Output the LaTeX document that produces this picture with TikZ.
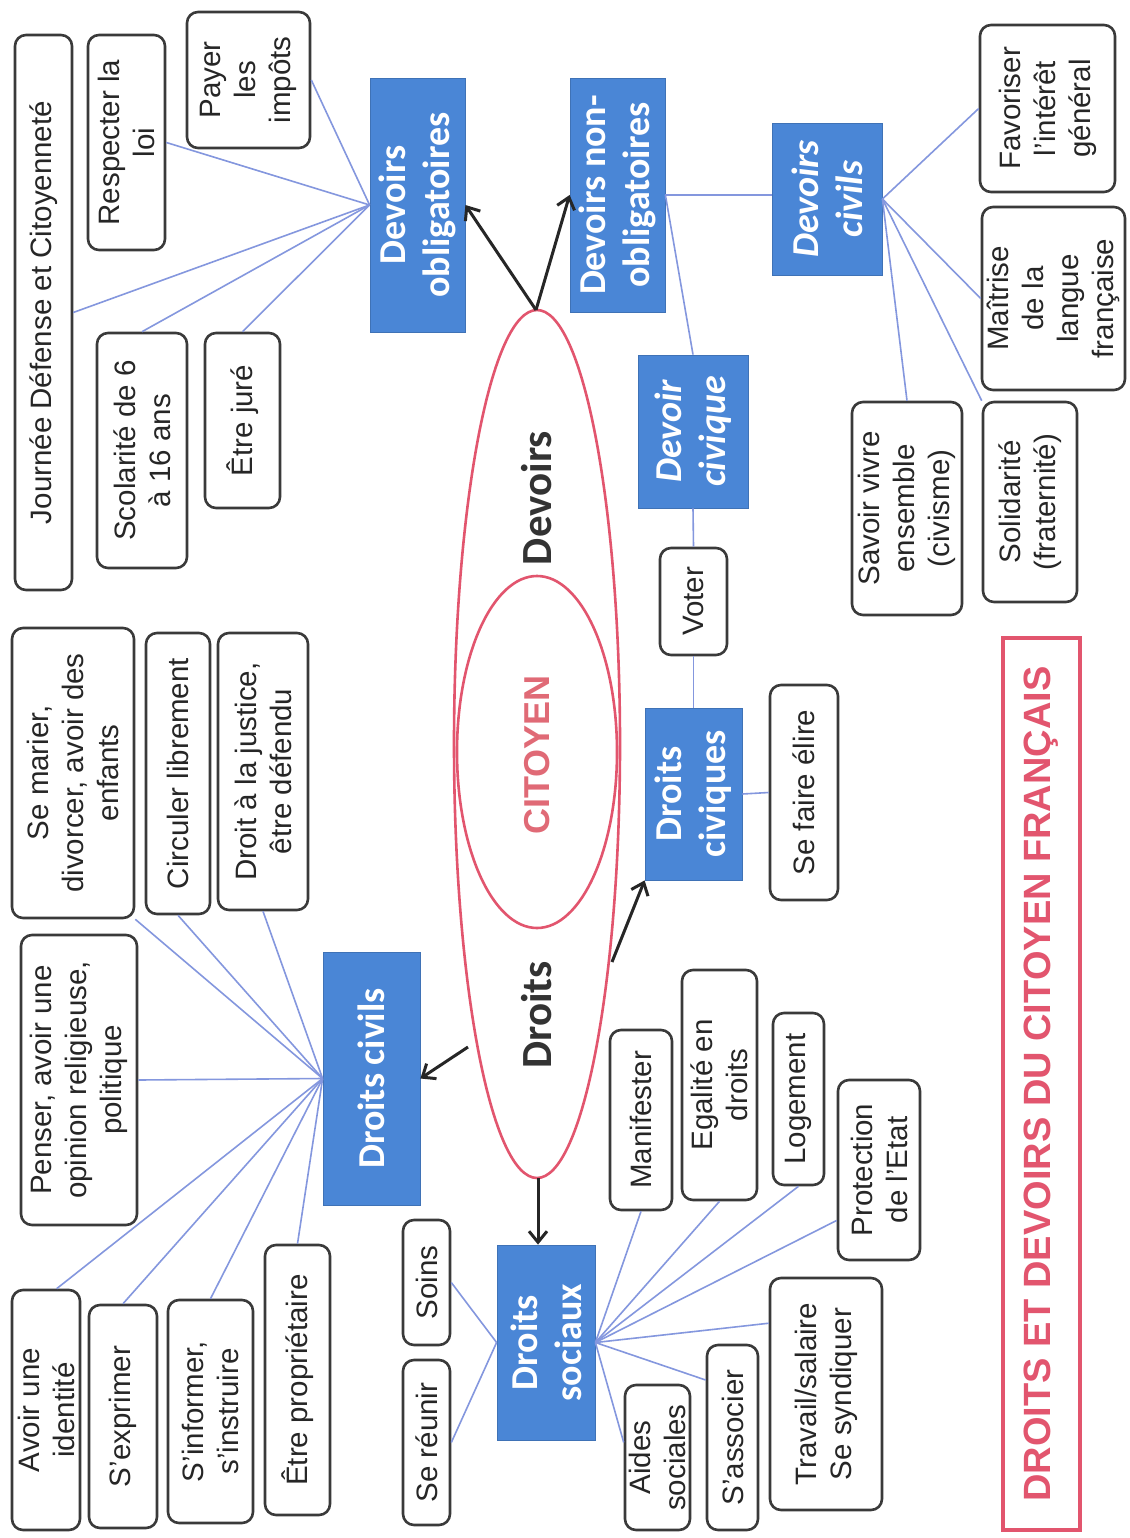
\documentclass[tikz,border=0pt]{standalone}
\usepackage{fontspec}
\setmainfont{Liberation Sans}
\newfontfamily\carl{Carlito}
\usetikzlibrary{arrows.meta}
\definecolor{boxblue}{HTML}{4A86D6}
\definecolor{linkblue}{HTML}{8497DE}
\definecolor{rosered}{HTML}{E2556E}
\definecolor{citred}{HTML}{E06A76}
\definecolor{boxline}{HTML}{3A3A3A}
\begin{document}
\begin{tikzpicture}[x=1pt,y=-1pt,
 leaf/.style={draw=boxline, line width=2.6pt, rounded corners=11pt, fill=white, rotate=90, align=center, inner sep=1pt, text=black!85, font=\fontsize{29.5}{35}\selectfont},
 bluebox/.style={fill=boxblue, draw=boxblue!85!black, line width=0.8pt, rotate=90, align=center, inner sep=2pt, text=white, font=\carl\bfseries\fontsize{38}{44}\selectfont},
 ibluebox/.style={bluebox, font=\carl\bfseries\itshape\fontsize{38}{44}\selectfont},
 link/.style={draw=linkblue, line width=1.6pt},
 arr/.style={draw=black!85, line width=3pt, -{Straight Barb[length=11pt,width=18pt,line width=3pt]}},
 redell/.style={draw=rosered, line width=2.6pt},
 biglabel/.style={rotate=90, font=\carl\bfseries\fontsize{43}{50}\selectfont},
]
\useasboundingbox (0,0) rectangle (1129,1538);
\fill[white] (0,0) rectangle (1129,1538);

% ellipses
\draw[redell] (537,744) ellipse [x radius=83, y radius=434];
\draw[redell] (537,752) ellipse [x radius=80, y radius=176];
\node[biglabel, text=black!80] (lbdev) at (537,498) {Devoirs};
\node[rotate=90, text=citred, font=\bfseries\fontsize{36}{40}\selectfont] (lbcit) at (537,755) {CITOYEN};
\node[biglabel, text=black!80] (lbdro) at (537,1015) {Droits};

\coordinate (etop) at (536,310);
\coordinate (eleft) at (468,1047);
\coordinate (eright) at (612,962);
\coordinate (ebot) at (538,1178);

% blue boxes
\node[bluebox, minimum width=254, minimum height=95] (dobl) at (417.5,205) {Devoirs\\obligatoires};
\node[bluebox, minimum width=234, minimum height=95] (dnon) at (617.5,195) {Devoirs non-\\obligatoires};
\node[ibluebox, minimum width=152, minimum height=110] (dciv) at (827,199) {Devoirs\\civils};
\node[ibluebox, minimum width=153, minimum height=110] (dcivique) at (693,431.5) {Devoir\\civique};
\node[bluebox, minimum width=253, minimum height=97] (drciv) at (371.5,1078.5) {Droits civils};
\node[bluebox, minimum width=172, minimum height=97] (drcivq) at (693.5,794) {Droits\\civiques};
\node[bluebox, minimum width=195, minimum height=98] (drsoc) at (546,1342.5) {Droits\\sociaux};

% leaves - devoirs
\node[leaf, minimum width=555, minimum height=57] (journee) at (43.5,312.5) {Journée Défense et Citoyenneté};
\node[leaf, minimum width=215, minimum height=77] (respect) at (126.5,142.5) {Respecter la\\loi};
\node[leaf, minimum width=136, minimum height=123] (payer) at (248.5,80) {Payer\\les\\impôts};
\node[leaf, minimum width=235, minimum height=90] (scol) at (142,450.5) {Scolarité de 6\\à 16 ans};
\node[leaf, minimum width=175, minimum height=75] (jure) at (242.5,420.5) {Être juré};
\node[leaf, minimum width=167, minimum height=135] (favor) at (1047.5,108.5) {Favoriser\\l'intérêt\\général};
\node[leaf, minimum width=183, minimum height=143] (maitrise) at (1053.5,298.5) {Maîtrise\\de la\\langue\\française};
\node[leaf, minimum width=107, minimum height=67] (voter) at (693.5,601.5) {Voter};
\node[leaf, minimum width=213, minimum height=110] (savoir) at (907,508.5) {Savoir vivre\\ensemble\\(civisme)};
\node[leaf, minimum width=200, minimum height=94] (solid) at (1030,502) {Solidarité\\(fraternité)};

% leaves - droits
\node[leaf, minimum width=215, minimum height=68] (elire) at (804,792.5) {Se faire élire};
\node[leaf, minimum width=290, minimum height=122] (marier) at (73,773) {Se marier,\\divorcer, avoir des\\enfants};
\node[leaf, minimum width=281, minimum height=64] (circuler) at (178,773.5) {Circuler librement};
\node[leaf, minimum width=277, minimum height=90] (justice) at (263,771.5) {Droit à la justice,\\être défendu};
\node[leaf, minimum width=290, minimum height=116] (penser) at (79,1080) {Penser, avoir une\\opinion religieuse,\\politique};
\node[leaf, minimum width=240, minimum height=68] (identite) at (46,1410) {Avoir une\\identité};
\node[leaf, minimum width=223, minimum height=68] (exprimer) at (123,1416.5) {S'exprimer};
\node[leaf, minimum width=223, minimum height=85] (informer) at (210.5,1411.5) {S'informer,\\s'instruire};
\node[leaf, minimum width=270, minimum height=65] (proprio) at (297.5,1380) {Être propriétaire};
\node[leaf, minimum width=125, minimum height=47] (soins) at (426.5,1282.5) {Soins};
\node[leaf, minimum width=165, minimum height=47] (reunir) at (426.5,1442.5) {Se réunir};
\node[leaf, minimum width=180, minimum height=62] (manif) at (641,1120) {Manifester};
\node[leaf, minimum width=230, minimum height=75] (egalite) at (719.5,1085) {Egalité en\\droits};
\node[leaf, minimum width=172, minimum height=51] (logement) at (798.5,1099) {Logement};
\node[leaf, minimum width=180, minimum height=82] (protect) at (879,1170) {Protection\\de l'Etat};
\node[leaf, minimum width=145, minimum height=65] (aides) at (657.5,1457.5) {Aides\\sociales};
\node[leaf, minimum width=185, minimum height=51] (associer) at (732.5,1437.5) {S'associer};
\node[leaf, minimum width=232, minimum height=112] (travail) at (826,1394) {Travail/salaire\\Se syndiquer};

% title
\node[draw=rosered, line width=4pt, rotate=90, minimum width=892, minimum height=77, text=rosered, font=\bfseries\fontsize{38}{42}\selectfont] (title) at (1041.5,1084) {DROITS ET DEVOIRS DU CITOYEN FRANÇAIS};

% links
\foreach \t/\a in {payer/south, respect/south, journee/south, scol/east, jure/east}
  \draw[link] (dobl.north) -- (\t.\a);
\draw[link] (dnon.south) -- (dnon.south -| dciv.north);
\draw[link] (dnon.south) -- (dcivique.east);
\draw[link] (dcivique.west) -- (voter.east);
\foreach \t/\a in {favor/north, maitrise/north, solid/north east, savoir/east}
  \draw[link] (dciv.south) -- (\t.\a);
\foreach \t/\a in {marier/south west, circuler/west, justice/west, penser/south, identite/-5, exprimer/east, informer/east, proprio/east}
  \draw[link] (drciv.north) -- (\t.\a);
\draw[link] (drsoc.north) -- (soins.south);
\draw[link] (drsoc.north) -- (reunir.south);
\foreach \t/\a in {manif/west, egalite/west, logement/west, protect/140, travail/39, associer/25, aides/66}
  \draw[link] (drsoc.south) -- (\t.\a);
\draw[link] (drcivq.south) -- (elire.north);
\draw[link] (drcivq.east) -- (voter.west);

% arrows
\draw[arr] (etop) -- (dobl.south);
\draw[arr] (etop) -- (dnon.north);
\draw[arr] (eleft) -- (drciv.south);
\draw[arr] (eright) -- (drcivq.north west);
\draw[arr] (ebot) -- (ebot |- drsoc.east);
\end{tikzpicture}
\end{document}
